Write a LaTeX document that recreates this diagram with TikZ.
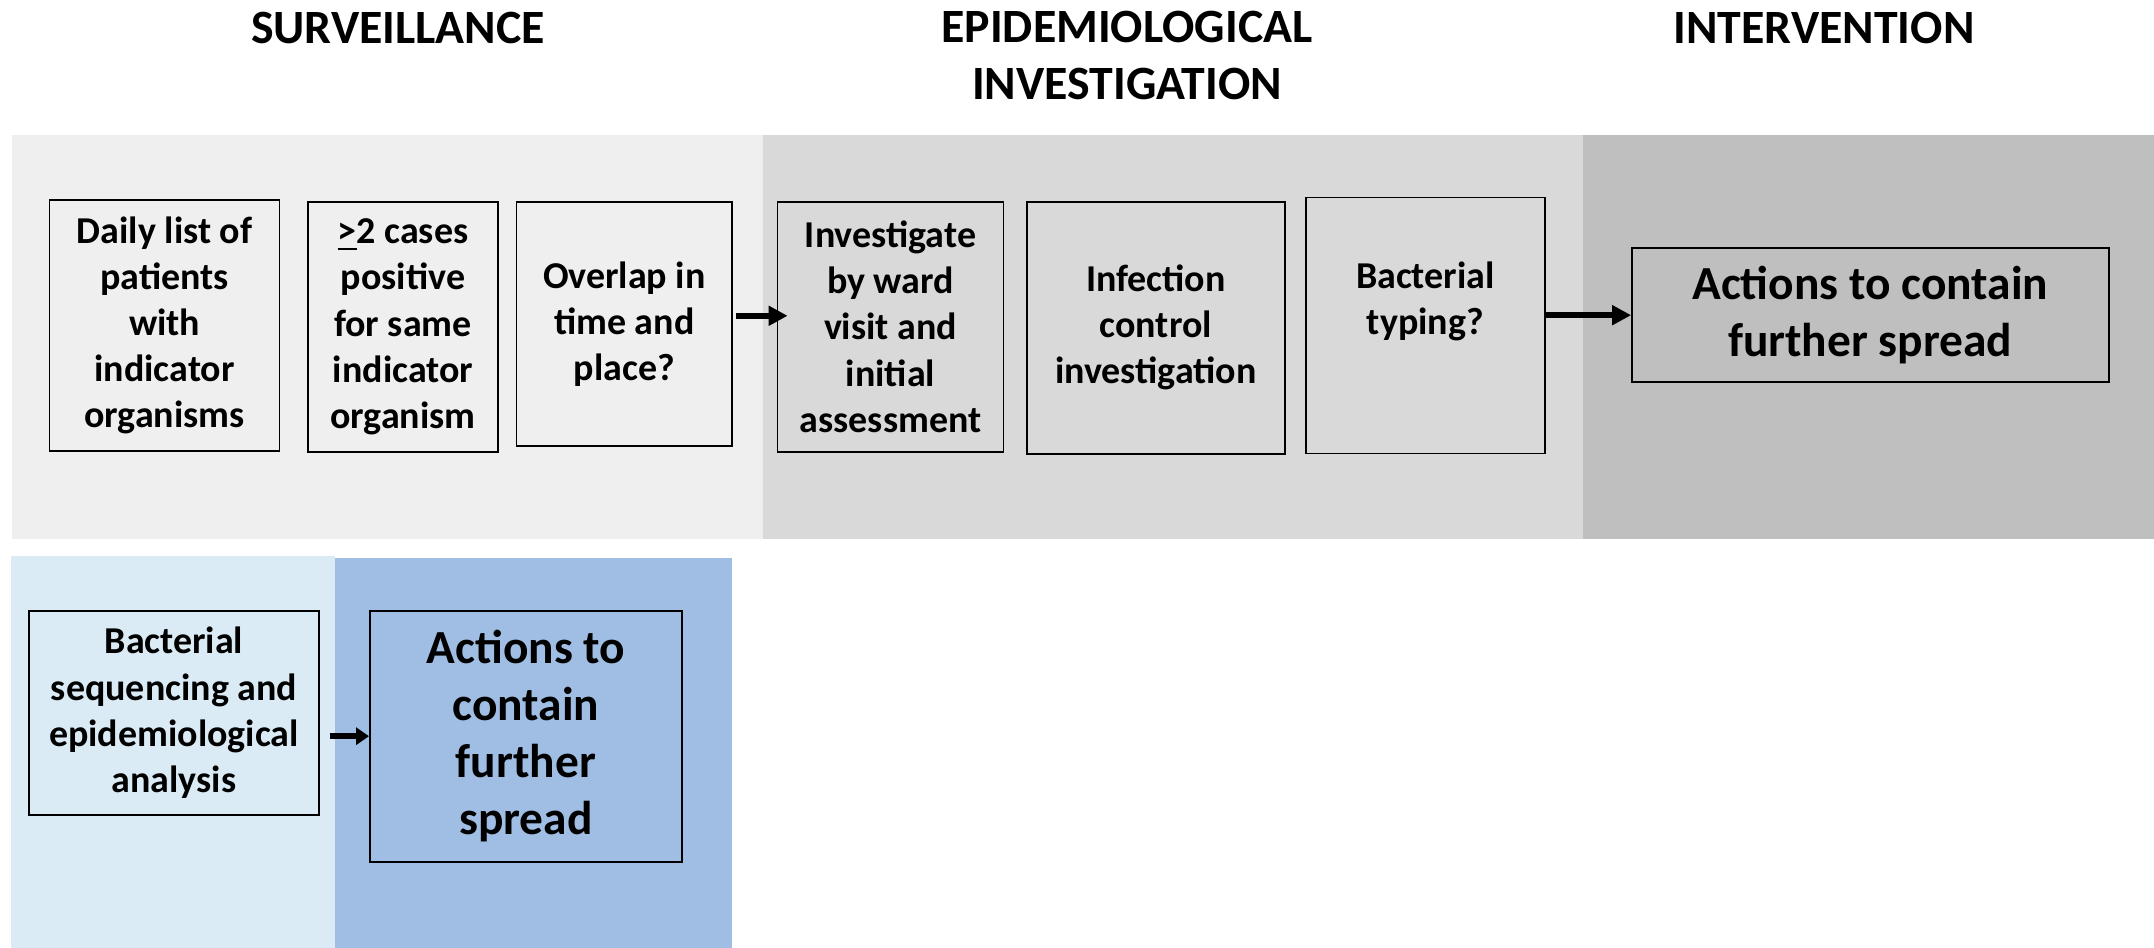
\documentclass[tikz,border=0pt]{standalone}
\usepackage{fontspec}
\setmainfont{Carlito}
\usepackage{tikz}
\usetikzlibrary{positioning}
\usetikzlibrary{arrows.meta}

\definecolor{survgray}{RGB}{239,239,239}
\definecolor{epigray}{RGB}{217,217,217}
\definecolor{intgray}{RGB}{191,191,191}
\definecolor{seqblue}{RGB}{218,235,245}
\definecolor{actblue}{RGB}{160,190,227}

\tikzset{
  stepbox/.style={draw, line width=0.5pt, align=center, inner sep=0pt,
    font=\bfseries\fontsize{10.8}{13.1}\selectfont},
  bigbox/.style={stepbox, font=\bfseries\fontsize{13.5}{16.2}\selectfont},
  phase/.style={align=center, font=\bfseries\fontsize{13.6}{16}\selectfont},
  flow/.style={line width=1.7pt, -{Triangle[length=0.19cm,width=0.19cm]}},
}

\begin{document}
\begin{tikzpicture}
\useasboundingbox (0,0) rectangle (21.54,-9.48);
% phase bands
\fill[survgray] (0.124,-1.35) rectangle (7.63,-5.386);
\fill[epigray] (7.63,-1.35) rectangle (15.833,-5.386);
\fill[intgray] (15.833,-1.35) rectangle (21.54,-5.386);
\fill[seqblue] (0.107,-5.557) rectangle (3.354,-9.48);
\fill[actblue] (3.354,-5.583) rectangle (7.32,-9.48);
% headings
\node[phase] (surv) at (3.98,-0.28) {SURVEILLANCE};
\node[phase] (epi) at (11.27,-0.555) {EPIDEMIOLOGICAL\\INVESTIGATION};
\node[phase] (interv) at (18.24,-0.28) {INTERVENTION};
% top row
\node[stepbox, minimum width=2.30cm, minimum height=2.51cm] (daily) at (1.646,-3.255)
  {Daily list of\\patients\\with\\indicator\\organisms};
\node[stepbox, minimum width=1.90cm, minimum height=2.50cm] (cases) at (4.03,-3.268)
  {\underline{>}2 cases\\positive\\for same\\indicator\\organism};
\node[stepbox, minimum width=2.155cm, minimum height=2.44cm] (overlap) at (6.243,-3.238)
  {Overlap in\\time and\\place?};
\node[stepbox, minimum width=2.26cm, minimum height=2.50cm] (ward) at (8.905,-3.268)
  {Investigate\\by ward\\visit and\\initial\\assessment};
\node[stepbox, minimum width=2.58cm, minimum height=2.52cm] (control) at (11.558,-3.277)
  {Infection\\control\\investigation};
\node[stepbox, minimum width=2.39cm, minimum height=2.56cm] (typing) at (14.253,-3.255) {};
\node[stepbox, draw=none] (typingtext) at ([yshift=0.24cm]typing.center) {Bacterial\\typing?};
\node[bigbox, minimum width=4.766cm, minimum height=1.34cm] (actions) at (18.703,-3.152)
  {Actions to contain\\further spread};
% bottom row
\node[stepbox, minimum width=2.90cm, minimum height=2.04cm] (seq) at (1.74,-7.127)
  {Bacterial\\sequencing and\\epidemiological\\analysis};
\node[bigbox, minimum width=3.12cm, minimum height=2.51cm] (actions2) at (5.259,-7.362)
  {Actions to\\contain\\further\\spread};
% arrows
\draw[flow] ([xshift=0.035cm,yshift=0.08cm]overlap.east) -- ([xshift=0.11cm,yshift=0.11cm]ward.west);
\draw[flow] (typing.east |- actions.west) -- (actions.west);
\draw[flow, -{Triangle[length=0.13cm,width=0.17cm]}, shorten <=0.1cm] (seq.east |- actions2.west) -- (actions2.west);
\end{tikzpicture}
\end{document}
